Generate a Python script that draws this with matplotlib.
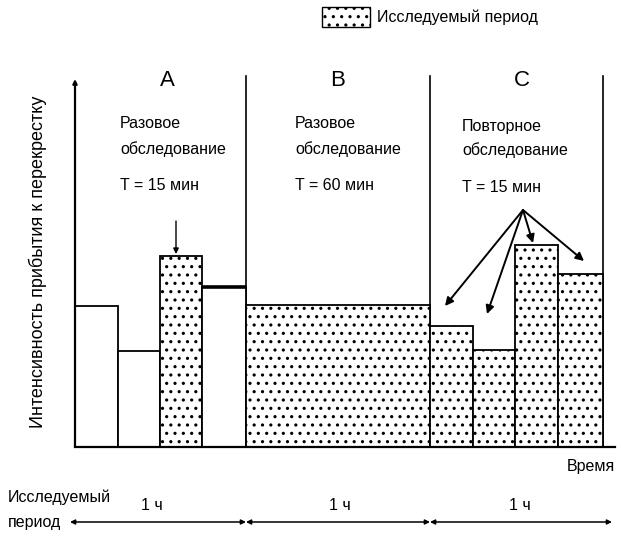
import matplotlib.pyplot as plt
from matplotlib.patches import Patch

plt.rcParams['font.family'] = ['Liberation Sans', 'DejaVu Sans']
plt.rcParams['hatch.linewidth'] = 1.1

# bar edges (time) and heights (intensity)
a_edges = [0, 43, 85, 127, 171]
a_heights = [141, 96, 191, 160]
a_studied = [False, False, True, False]
b_edges = [171, 355]
b_heights = [142]
c_edges = [355, 398, 440, 483, 528]
c_heights = [121, 97, 202, 173]

block_bounds = [171, 355, 528]
block_names = ['A', 'B', 'C']
block_text = [['Разовое', 'обследование', 'T = 15 мин'],
              ['Разовое', 'обследование', 'T = 60 мин'],
              ['Повторное', 'обследование', 'T = 15 мин']]
period_labels = ['1 ч', '1 ч', '1 ч']

fig = plt.figure(figsize=(6.21, 5.36), dpi=100)
ax = fig.add_axes([0, 0, 1, 1])
ax.set_xlim(-75, 546)
ax.set_ylim(-89, 447)
ax.axis('off')

def draw_bars(edges, heights, studied):
    for i, h in enumerate(heights):
        x0, x1 = edges[i], edges[i + 1]
        ax.bar(x0, h, width=x1 - x0, align='edge', facecolor='white',
               edgecolor='black', linewidth=1.3,
               hatch='..' if studied[i] else None, zorder=2)

draw_bars(a_edges, a_heights, a_studied)
ax.hlines(a_heights[3], a_edges[3], a_edges[4], color='black', lw=2.6, zorder=3)
draw_bars(b_edges, b_heights, [True])
draw_bars(c_edges, c_heights, [True] * 4)

# axes
ax.annotate('', xy=(0, 368), xytext=(0, 0),
            arrowprops=dict(arrowstyle='-|>', lw=1.6, color='black',
                            mutation_scale=6, shrinkA=0, shrinkB=0))
ax.plot([0, 540], [0, 0], color='black', lw=1.6, zorder=4)
for xb in block_bounds:
    ax.plot([xb, xb], [0, 371], color='black', lw=1.2, zorder=1)

# block letters and notes
name_x = [92, 263, 447]
text_x = [45, 220, 387]
for i in range(3):
    ax.text(name_x[i], 367, block_names[i], ha='center', va='center', fontsize=16)
    ty = [324, 298, 262] if i < 2 else [320, 297, 260]
    for t, y in zip(block_text[i], ty):
        ax.text(text_x[i], y, t, ha='left', va='center', fontsize=11.5)

# arrows to the studied bars
ax.annotate('', xy=(101, 193), xytext=(101, 226),
            arrowprops=dict(arrowstyle='-|>', lw=1.0, color='black',
                            mutation_scale=8, shrinkA=0, shrinkB=0))
start = (448, 237)
ends = [(370, 141), (412, 133), (458, 204), (509, 186)]
for e in ends:
    ax.annotate('', xy=e, xytext=start,
                arrowprops=dict(arrowstyle='-|>', lw=1.4, color='black',
                                mutation_scale=12, shrinkA=0, shrinkB=0))

# axis labels
ax.text(-37, 185, 'Интенсивность прибытия к перекрестку', rotation=90,
        ha='center', va='center', fontsize=13)
ax.text(540, -20, 'Время', ha='right', va='center', fontsize=11.5)

# studied period line
ax.text(-67, -50, 'Исследуемый', ha='left', va='center', fontsize=11.5)
ax.text(-67, -75, 'период', ha='left', va='center', fontsize=11.5)
seg = [-5] + block_bounds[:2] + [537]
for i in range(3):
    ax.annotate('', xy=(seg[i + 1], -75), xytext=(seg[i], -75),
                arrowprops=dict(arrowstyle='<|-|>', lw=1.1, color='black',
                                mutation_scale=7, shrinkA=0, shrinkB=0))
label_x = [77, 265, 445]
for x, t in zip(label_x, period_labels):
    ax.text(x, -58, t, ha='center', va='center', fontsize=11.5)

# legend
leg = ax.legend(handles=[Patch(facecolor='white', edgecolor='black', hatch='..',
                               lw=1.0, label='Исследуемый период')],
                loc='upper left', bbox_to_anchor=(0.496, 1.013), frameon=False,
                handlelength=3.0, handleheight=1.5, handletextpad=0.45,
                prop={'size': 11.5})

fig.savefig('out.png', dpi=100)
